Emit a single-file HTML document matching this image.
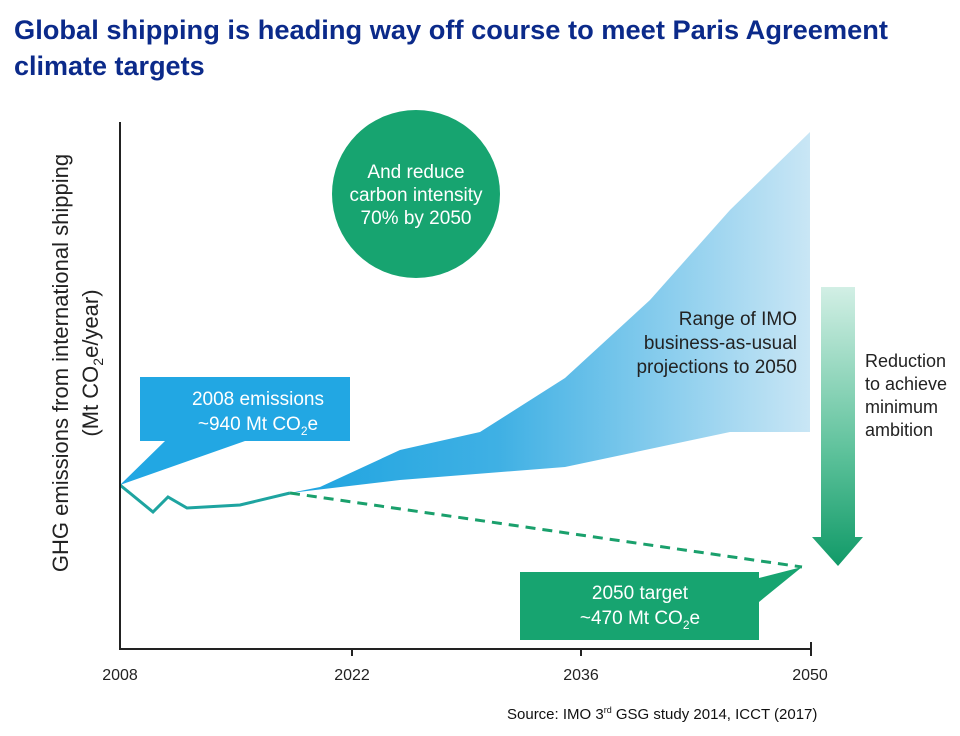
<!DOCTYPE html>
<html><head><meta charset="utf-8"><style>
body{margin:0;background:#fff;width:960px;height:731px;overflow:hidden;font-family:"Liberation Sans",Arial,sans-serif}
</style></head><body>
<svg width="960" height="731" viewBox="0 0 960 731" xmlns="http://www.w3.org/2000/svg" font-family="Liberation Sans, Arial, sans-serif">
<defs>
<linearGradient id="fan" x1="0" y1="0" x2="1" y2="0">
<stop offset="0" stop-color="#1ea4e0"/><stop offset="0.4" stop-color="#3fb0e4"/><stop offset="1" stop-color="#c9e6f5"/></linearGradient>
<linearGradient id="arr" x1="0" y1="0" x2="0" y2="1">
<stop offset="0" stop-color="#d2efe5"/><stop offset="0.6" stop-color="#5cc19a"/><stop offset="1" stop-color="#119a68"/></linearGradient>
</defs>
<text x="14" y="39" font-size="27" font-weight="bold" fill="#0b2a8a" textLength="874" lengthAdjust="spacingAndGlyphs">Global shipping is heading way off course to meet Paris Agreement</text>
<text x="14" y="75" font-size="27" font-weight="bold" fill="#0b2a8a">climate targets</text>

<polygon fill="url(#fan)" points="290,493 320,487 400,450 480,432 565,378 650,300 730,210 810,132 810,432 730,432 565,467 400,480"/>
<polygon fill="#22a7e3" points="140,377 350,377 350,441 245,441 120,485 165,441 140,441"/>
<text x="258" y="405" font-size="19" fill="#fff" text-anchor="middle">2008 emissions</text>
<text x="258" y="430" font-size="19" fill="#fff" text-anchor="middle">~940 Mt CO<tspan font-size="12" dy="5">2</tspan><tspan dy="-5">e</tspan></text>

<polyline fill="none" stroke="#1ea4a0" stroke-width="3" points="120,485 153,512 168,497 187,508 240,505 290,493"/>
<line x1="290" y1="493" x2="802" y2="567" stroke="#1aa06c" stroke-width="3" stroke-dasharray="10,7"/>

<circle cx="416" cy="194" r="84" fill="#17a470"/>
<text x="416" y="178" font-size="19" fill="#fff" text-anchor="middle">And reduce</text>
<text x="416" y="201" font-size="19" fill="#fff" text-anchor="middle">carbon intensity</text>
<text x="416" y="224" font-size="19" fill="#fff" text-anchor="middle">70% by 2050</text>

<text x="797" y="325" font-size="19" fill="#222" text-anchor="end">Range of IMO</text>
<text x="797" y="349" font-size="19" fill="#222" text-anchor="end">business-as-usual</text>
<text x="797" y="373" font-size="19" fill="#222" text-anchor="end">projections to 2050</text>

<polygon fill="url(#arr)" points="821,287 855,287 855,537 863,537 838,566 812,537 821,537"/>
<text x="865" y="367" font-size="18" fill="#222">Reduction</text>
<text x="865" y="390" font-size="18" fill="#222">to achieve</text>
<text x="865" y="413" font-size="18" fill="#222">minimum</text>
<text x="865" y="436" font-size="18" fill="#222">ambition</text>

<polygon fill="#17a470" points="520,572 759,572 759,578 802,567 759,602 759,640 520,640"/>
<text x="640" y="599" font-size="19" fill="#fff" text-anchor="middle">2050 target</text>
<text x="640" y="624" font-size="19" fill="#fff" text-anchor="middle">~470 Mt CO<tspan font-size="12" dy="5">2</tspan><tspan dy="-5">e</tspan></text>

<line x1="120" y1="122" x2="120" y2="650" stroke="#222" stroke-width="2"/>
<line x1="119" y1="649" x2="811" y2="649" stroke="#222" stroke-width="2"/>
<line x1="352" y1="649" x2="352" y2="656" stroke="#222" stroke-width="2"/>
<line x1="581" y1="649" x2="581" y2="656" stroke="#222" stroke-width="2"/>
<line x1="811" y1="642" x2="811" y2="656" stroke="#222" stroke-width="2"/>
<text x="120" y="680" font-size="16" fill="#222" text-anchor="middle">2008</text>
<text x="352" y="680" font-size="16" fill="#222" text-anchor="middle">2022</text>
<text x="581" y="680" font-size="16" fill="#222" text-anchor="middle">2036</text>
<text x="810" y="680" font-size="16" fill="#222" text-anchor="middle">2050</text>

<g transform="translate(68,363) rotate(-90)">
<text x="0" y="0" font-size="22" fill="#222" text-anchor="middle">GHG emissions from international shipping</text>
<text x="0" y="30" font-size="22" fill="#222" text-anchor="middle">(Mt CO<tspan font-size="14" dy="5">2</tspan><tspan dy="-5">e/year)</tspan></text>
</g>

<text x="507" y="719" font-size="15" fill="#111">Source: IMO 3<tspan font-size="9" dy="-6">rd</tspan><tspan dy="6"> GSG study 2014, ICCT (2017)</tspan></text>
</svg>
</body></html>
